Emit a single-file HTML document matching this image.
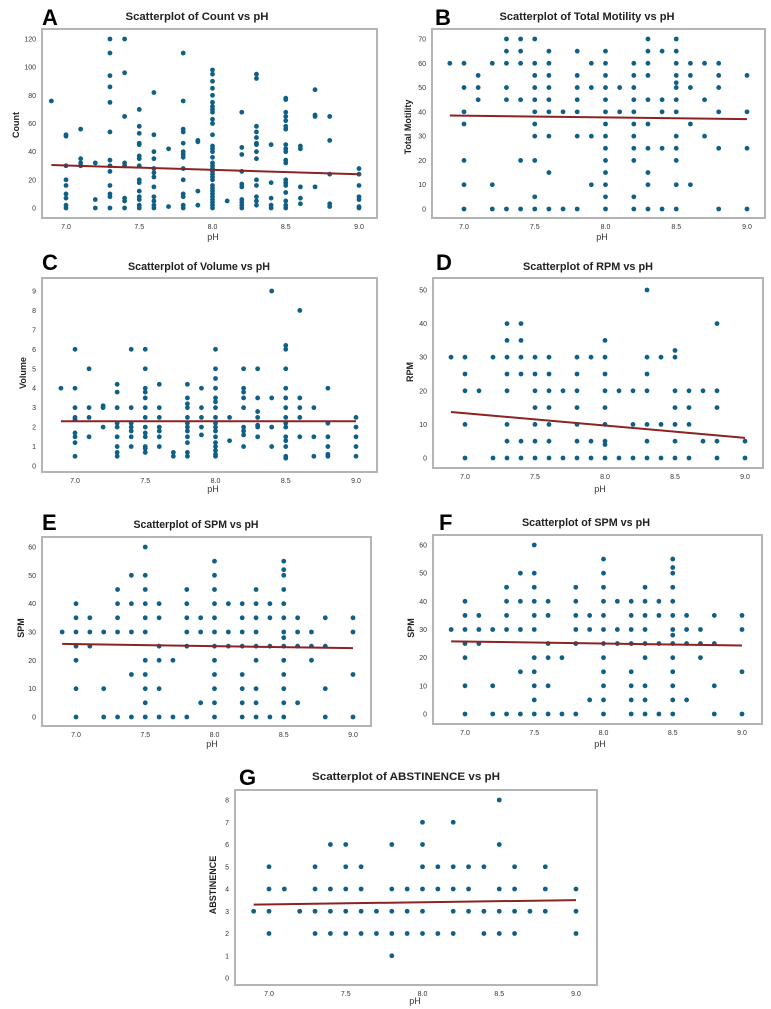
<!DOCTYPE html>
<html><head><meta charset="utf-8"><style>
html,body{margin:0;padding:0;background:#fff;}
svg{display:block;font-family:"Liberation Sans",sans-serif;}
</style></head><body>
<svg id="fig" width="771" height="1009" viewBox="0 0 771 1009" xmlns="http://www.w3.org/2000/svg"></svg>
<script>
// ---- shared x categories (pH) ----
const phA=[6.9,7.0,7.1,7.2,7.3,7.4,7.5,7.6,7.7,7.8,7.9,8.0,8.1,8.2,8.3,8.4,8.5,8.6,8.7,8.8,9.0];
const xTicks=[7.0,7.5,8.0,8.5,9.0];
const xTickLabels=["7.0","7.5","8.0","8.5","9.0"];
// ---- Panel A: Count ----
const countY=[[76],[52,51,30,20,16,10,7,2,0],[56,35,32,30],[32,6,0],[120,110,94,86,75,54,34,30,26,16,10,8,0],[120,96,65,32,30,7,5,0],[70,58,53,46,45,37,35,30,20,18,12,8,6,2,0],[82,52,40,35,28,25,22,15,8,5,2,0],[42,1],[110,76,56,54,46,40,38,36,28,20,10,8,2,0],[48,47,12,2],[98,95,90,85,80,75,72,70,68,63,60,52,44,42,40,36,32,30,28,26,24,22,20,16,14,12,10,8,6,4,2,0],[5],[68,43,38,26,17,15,6,4,2,0],[95,92,58,54,50,46,45,40,35,20,16,8,5,2],[45,18,7,2,0],[78,77,68,65,62,58,56,45,42,40,34,32,20,18,16,11,5,2,0],[44,42,15,7,3],[84,66,65,15],[65,48,24,3,1],[28,24,16,8,6,1,0]];
const countTicks=[0,20,40,60,80,100,120];
const countFit=[30.5,24];
// ---- Panel B: Total Motility ----
const motY=[[60],[60,50,40,35,20,10,0],[55,50,45],[60,10,0],[70,65,60,50,45,0],[70,65,60,45,20,0],[70,60,55,50,45,40,35,30,20,5,0],[65,60,55,50,45,40,30,15,0],[40,0],[65,55,50,45,40,30,0],[60,50,30,10],[65,60,55,50,45,40,35,30,25,20,15,10,5,0],[50,40],[60,55,50,45,40,35,30,25,20,5,0],[70,65,60,55,45,35,25,15,10,0],[65,45,40,25,0],[70,65,60,55,52,50,45,40,30,25,20,10,0],[60,55,50,35,10],[60,45,30],[60,55,50,40,25,0],[55,40,25,0]];
const motTicks=[0,10,20,30,40,50,60,70];
const motFit=[38.5,37];
// ---- Panel C: Volume ----
const volY=[[4],[6,4,3,2.5,2.4,1.7,1.5,1.2,0.5],[5,3,2.5,1.5],[3.1,3,2],[4.2,3.8,3,2.2,2,1.5,1,0.7,0.5],[6,3,2.2,2,1.8,1.5,1],[6,5,4,3.8,3.5,3,2.5,2,1.7,1.5,1,0.9,0.7],[4.2,3,2.5,2,1.8,1.5,1],[0.7,0.5],[4.2,3.5,3.2,3,2.5,2.2,2,1.8,1.5,1.2,0.7,0.5],[4,3,2.5,2,1.6],[6,5,4.5,4,3.5,3.3,3,2.5,2.2,2,1.8,1.5,1.2,1,0.8,0.6,0.5],[2.5,1.3],[5,4,3.8,3.5,3,2,1.8,1.6,1],[5,3.5,2.8,2.5,2.1,2,1.5],[9,3.5,2,1],[6.2,6,5,4,3.5,3,2.5,2.2,2,1.5,1.3,1,0.5,0.4],[8,3.5,3,2.5,1.5],[3,1.5,0.5],[4,2.2,1.5,1,0.6,0.5],[2.5,2,1.5,1,0.5]];
const volTicks=[0,1,2,3,4,5,6,7,8,9];
const volFit=[2.3,2.3];
// ---- Panel D: RPM ----
const rpmY=[[30],[30,25,20,10,0],[20],[30,0],[40,35,30,25,20,10,5,0],[40,35,30,25,5,0],[30,25,20,15,10,5,0],[30,25,20,15,10,5,0],[20,0],[30,25,20,15,10,5,0],[30,5,0],[35,30,25,20,15,10,5,4,0],[20,0],[20,10,0],[50,30,25,20,10,5,0],[30,10,0],[32,30,20,15,10,5,0],[20,15,10,0],[20,5],[40,20,15,5,0],[5,0]];
const rpmTicks=[0,10,20,30,40,50];
const rpmFit=[13.7,6];
// ---- Panels E & F: SPM ----
const spmY=[[30],[40,35,30,25,20,10,0],[35,30,25],[30,10,0],[45,40,35,30,0],[50,40,30,15,0],[60,50,45,40,35,30,20,15,10,5,0],[40,35,25,20,10,0],[20,0],[45,40,35,30,25,0],[35,30,5],[55,50,45,40,35,30,25,20,15,10,5,0],[40,30,25],[40,35,30,25,15,10,5,0],[45,40,35,30,25,20,10,5,0],[40,35,25,0],[55,52,50,45,40,35,30,28,25,20,15,10,5,0],[35,30,25,5],[30,25,20],[35,25,10,0],[35,30,15,0]];
const spmTicks=[0,10,20,30,40,50,60];
const spmFit=[25.8,24.3];
// ---- Panel G: Abstinence ----
const absY=[[3],[5,4,3,2],[4],[3],[5,4,3,2],[6,4,3,2],[6,5,4,3,2],[5,4,3,2],[3,2],[6,4,3,2,1],[4,3,2],[7,6,5,4,3,2],[5,4,2],[7,5,4,3,2],[5,4,3],[5,3,2],[8,6,4,3,2],[5,4,3,2],[3],[5,4,3],[4,3,2]];
const absTicks=[0,1,2,3,4,5,6,7,8];
const absFit=[3.3,3.5];

const NS="http://www.w3.org/2000/svg";
const svg=document.getElementById('fig');
function mk(tag,attrs,parent){const e=document.createElementNS(NS,tag);for(const k in attrs)e.setAttribute(k,attrs[k]);(parent||svg).appendChild(e);return e;}

function panel(p,ys,yTicks,fit){
  const g=mk('g',{});
  
  
  const sx=v=>p.x7+(v-7)*(p.x9-p.x7)/2;
  const sy=v=>p.y0+(v-0)*(p.yT-p.y0)/p.vT;
  const fr=mk('rect',{x:p.f[0],y:p.f[1],width:p.f[2]-p.f[0],height:p.f[3]-p.f[1],fill:'#fff',stroke:'#b4b4b4','stroke-width':2},g);
  
  
  const L=mk('text',{x:p.lx,y:p.ly,'font-size':22,'font-weight':'bold',fill:'#000'},g);
  L.textContent=p.letter;
  
  
  const T=mk('text',{x:p.tx,y:p.ty,'font-size':11,'font-weight':'bold','text-anchor':'middle',fill:'#222',textLength:p.tw,lengthAdjust:'spacingAndGlyphs'},g);
  T.textContent=p.title;
  
  
  xTicks.forEach((v,i)=>{
    const t=mk('text',{x:sx(v),y:p.f[3]+11,'font-size':7,'text-anchor':'middle',fill:'#333'},g);
    t.textContent=xTickLabels[i];
    
    
  });
  yTicks.forEach(v=>{
    const t=mk('text',{x:p.f[0]-6,y:sy(v)+2.5,'font-size':7,'text-anchor':'end',fill:'#333'},g);
    t.textContent=String(v);
    
    
  });
  const xl=mk('text',{x:p.xlx,y:p.xly,'font-size':9,'text-anchor':'middle',fill:'#333'},g);
  xl.textContent='pH';
  
  
  const yl=mk('text',{x:0,y:0,'font-size':9,'font-weight':'bold','text-anchor':'middle',fill:'#222',transform:`translate(${p.ylx},${p.yly}) rotate(-90)`},g);
  yl.textContent=p.ylabel;
  
  
  phA.forEach((x,i)=>{
    ys[i].forEach(v=>{
      const c=mk('circle',{cx:sx(x),cy:sy(v),r:2.4,fill:'#0f5f86'},g);
      
      
    });
  });
  const ln=mk('line',{x1:sx(phA[0]),y1:sy(fit[0]),x2:sx(phA[phA.length-1]),y2:sy(fit[1]),stroke:'#8b2323','stroke-width':2},g);
  
  
}

panel({letter:'A',f:[42,29,377,218],x7:66,x9:359,y0:208,yT:39,vT:120,lx:42,ly:25,tx:197,ty:20,tw:143,title:'Scatterplot of Count vs pH',ylabel:'Count',ylx:19,yly:125,xlx:213,xly:240},countY,countTicks,countFit);
panel({letter:'B',f:[432,29,765,218],x7:464,x9:747,y0:209,yT:39,vT:70,lx:435,ly:25,tx:587,ty:20,tw:175,title:'Scatterplot of Total Motility vs pH',ylabel:'Total Motility',ylx:411,yly:127,xlx:602,xly:240},motY,motTicks,motFit);
panel({letter:'C',f:[42,278,377,472],x7:75,x9:356,y0:466,yT:291,vT:9,lx:42,ly:270,tx:199,ty:270,tw:142,title:'Scatterplot of Volume vs pH',ylabel:'Volume',ylx:26,yly:373,xlx:213,xly:492},volY,volTicks,volFit);
panel({letter:'D',f:[433,278,763,468],x7:465,x9:745,y0:458,yT:290,vT:50,lx:436,ly:270,tx:588,ty:270,tw:130,title:'Scatterplot of RPM vs pH',ylabel:'RPM',ylx:413,yly:372,xlx:600,xly:492},rpmY,rpmTicks,rpmFit);
panel({letter:'E',f:[42,537,371,726],x7:76,x9:353,y0:717,yT:547,vT:60,lx:42,ly:530,tx:196,ty:528,tw:125,title:'Scatterplot of SPM vs pH',ylabel:'SPM',ylx:24,yly:628,xlx:212,xly:747},spmY,spmTicks,spmFit);
panel({letter:'F',f:[433,535,762,724],x7:465,x9:742,y0:714,yT:545,vT:60,lx:439,ly:530,tx:586,ty:526,tw:128,title:'Scatterplot of SPM vs pH',ylabel:'SPM',ylx:414,yly:628,xlx:600,xly:747},spmY,spmTicks,spmFit);
panel({letter:'G',f:[235,790,597,985],x7:269,x9:576,y0:978,yT:800,vT:8,lx:239,ly:785,tx:406,ty:780,tw:188,title:'Scatterplot of ABSTINENCE vs pH',ylabel:'ABSTINENCE',ylx:216,yly:885,xlx:415,xly:1004},absY,absTicks,absFit);
</script>
</body></html>
